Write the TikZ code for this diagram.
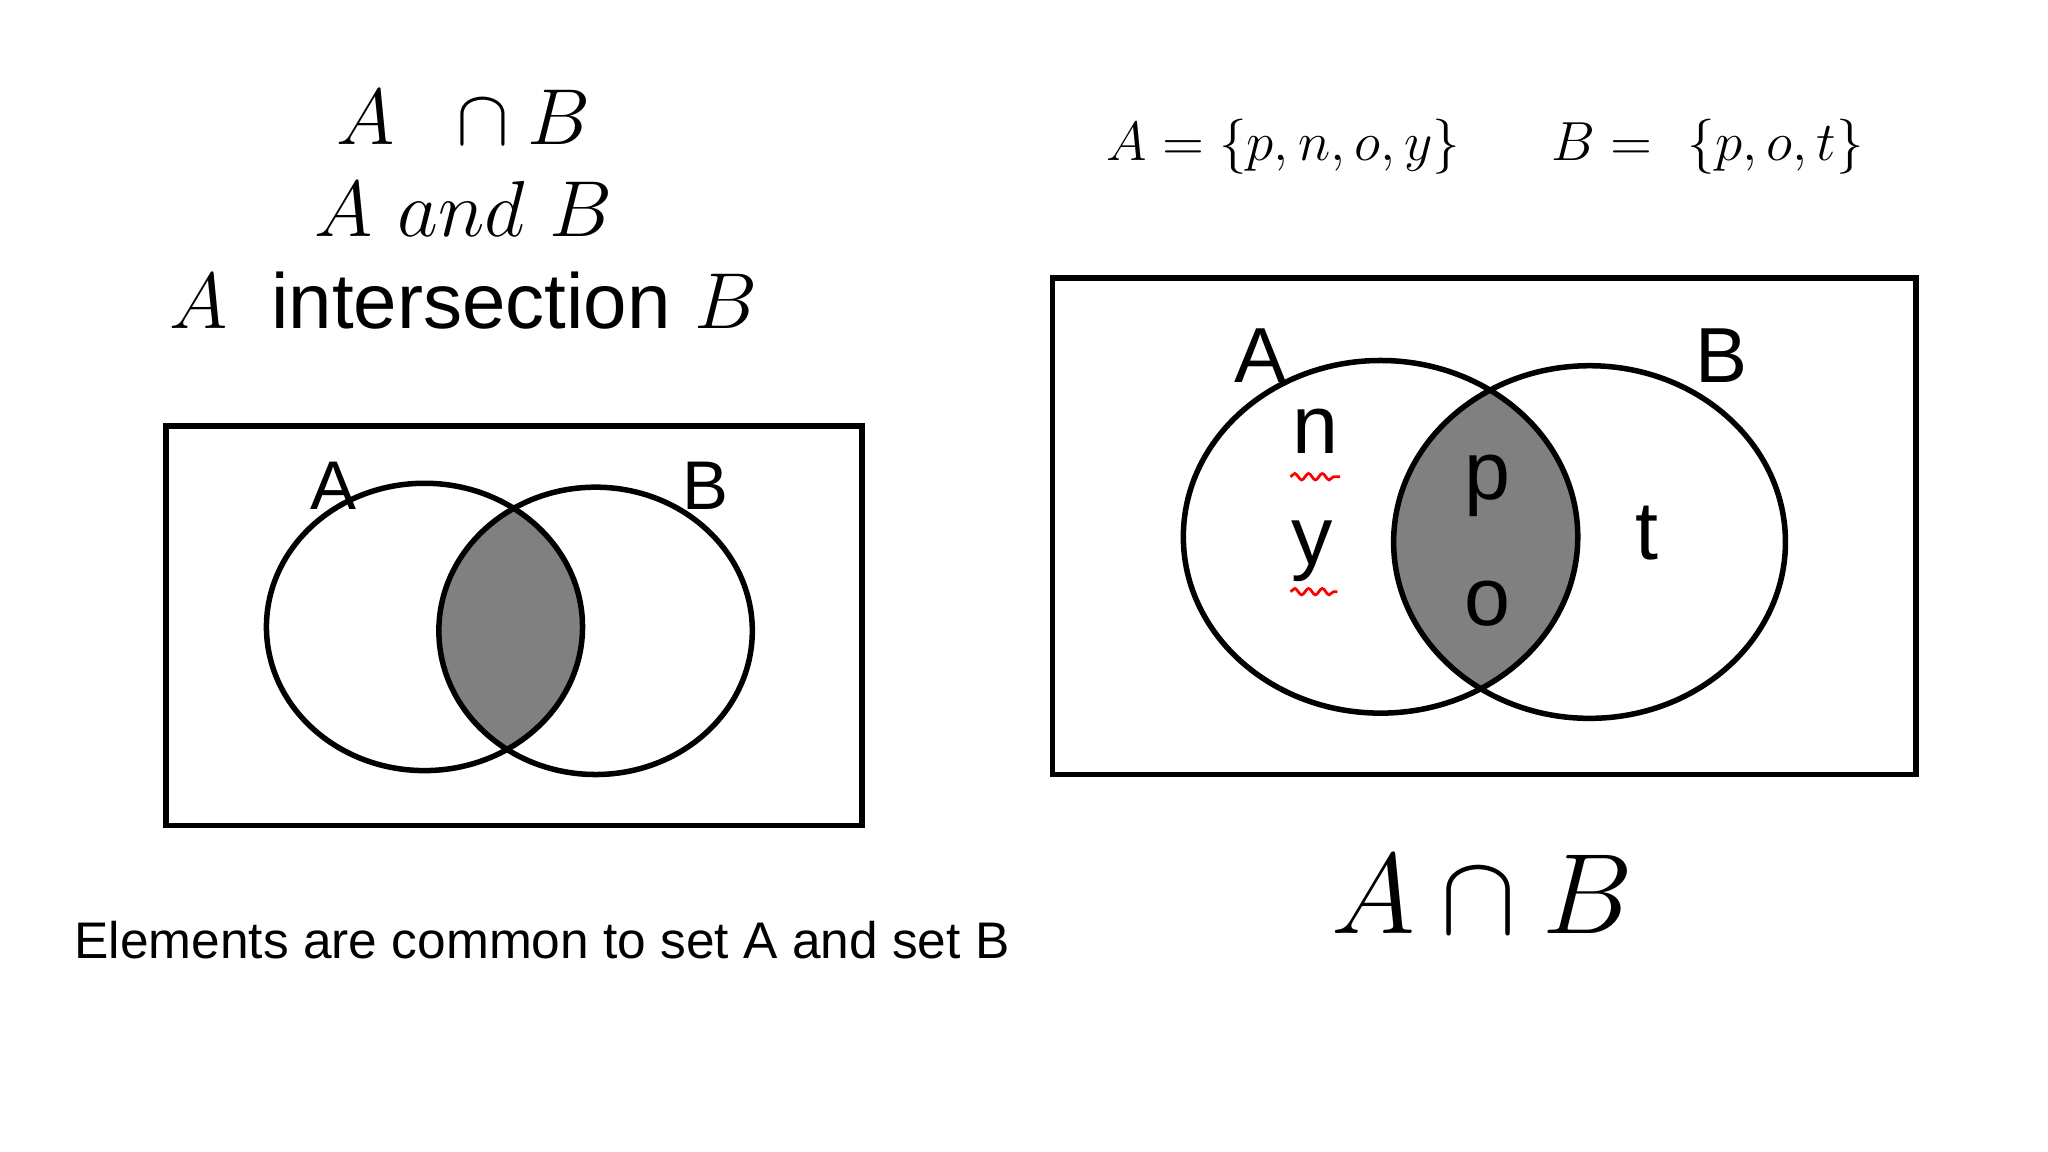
\documentclass[tikz,border=0pt]{standalone}
\usepackage{fontspec}
\setsansfont{Liberation Sans}
\usetikzlibrary{decorations.pathmorphing}
\newcommand{\fs}[1]{\fontsize{#1}{#1}\selectfont}
\begin{document}
\begin{tikzpicture}[x=0.01cm,y=-0.01cm,
  setline/.style={line width=1.2pt},
  lab/.style={font=\sffamily\fs{15}},
  elem/.style={font=\sffamily\fs{18}},
  squig/.style={red,line width=0.6pt,decorate,decoration={snake,amplitude=0.7pt,segment length=3pt}}]
\useasboundingbox (0,0) rectangle (1568,882);
% top left texts
\node (t1) at (355,90) {\fs{17.5}$A\;\;\cap B$};
\node (t2) at (355,160) {\fs{17.5}$A\ and\ B$};
\node (t3) at (355,230) {\fs{17}$A$\;\;{\sffamily intersection} $B$};
% left diagram
\begin{scope}
\clip (325,480) ellipse [x radius=121,y radius=110];
\fill[black!50] (456,483) ellipse [x radius=120,y radius=110];
\end{scope}
\draw[setline] (127,326) rectangle (660,632);
\draw[setline] (325,480) ellipse [x radius=121,y radius=110];
\draw[setline] (456,483) ellipse [x radius=120,y radius=110];
\node[lab] (la) at (255,372) {A};
\node[lab] (lb) at (540,372) {B};
\node[font=\sffamily\fs{11.2}] (cap) at (415,720) {Elements are common to set A and set B};
% right
\node (sets) at (1137,112) {\fs{13.2}$A=\{p,n,o,y\}\quad\;\; B=\ \{p,o,t\}$};
\begin{scope}
\clip (1057,411) ellipse [x radius=151,y radius=135];
\fill[black!50] (1217,415) ellipse [x radius=150,y radius=135];
\end{scope}
\draw[setline] (806,213) rectangle (1467,593);
\draw[setline] (1057,411) ellipse [x radius=151,y radius=135];
\draw[setline] (1217,415) ellipse [x radius=150,y radius=135];
\node[lab,font=\sffamily\fs{17}] (ra) at (965,272) {A};
\node[lab,font=\sffamily\fs{17}] (rb) at (1318,272) {B};
\node[elem] (n) at (1007,330) {n};
\node[elem] (y) at (1005,422) {y};
\node[elem] (p) at (1139,372) {p};
\node[elem] (o) at (1139,462) {o};
\node[elem] (t) at (1261,408) {t};
\coordinate (n1) at (988,365); \coordinate (n2) at (1026,365);
\coordinate (y1) at (988,453); \coordinate (y2) at (1024,453);
\draw[squig] (n1) -- (n2);
\draw[squig] (y1) -- (y2);
\node (big) at (1135,685) {\fs{30}$A\cap B$};
\end{tikzpicture}
\end{document}
